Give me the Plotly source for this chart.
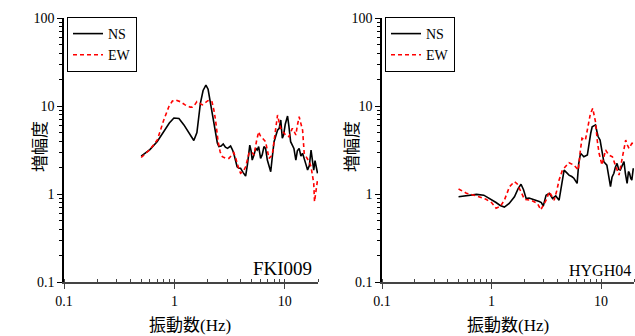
import plotly.graph_objects as go

# ---- FKI009 (left panel) ----
fki_ns_f = [0.5, 0.6, 0.7, 0.8, 0.9, 0.99, 1.1, 1.22, 1.35, 1.5, 1.6, 1.72, 1.82, 1.93, 2.02, 2.12, 2.24, 2.36, 2.45, 2.53,
            2.65, 2.77, 2.9, 3.03, 3.13, 3.23, 3.35, 3.45, 3.58, 3.7, 3.85, 3.98, 4.2, 4.42, 4.6, 4.82, 4.95, 5.07, 5.27,
            5.45, 5.63, 5.8, 6.04, 6.25, 6.48, 6.7, 6.95, 7.2, 7.46, 7.7, 8.0, 8.3, 8.6, 8.9, 9.2, 9.5, 9.75, 10.1, 10.6,
            10.9, 11.3, 11.7, 12.1, 12.6, 13.0, 13.5, 14.0, 14.5, 15.0, 15.5, 16.1, 16.7, 17.3, 17.8, 18.3, 18.8, 19.2, 19.8]
fki_ns_a = [2.7, 3.2, 3.95, 5.1, 6.4, 7.3, 7.2, 6.1, 4.9, 4.05, 5.0, 10.7, 15.0, 17.3, 15.5, 10.7, 6.8, 4.9, 3.8, 3.45,
            3.5, 3.7, 3.4, 3.3, 3.45, 3.51, 3.2, 2.9, 2.4, 2.04, 1.96, 1.96, 1.75, 1.6, 2.2, 3.6, 3.1, 2.43, 2.8,
            3.3, 3.16, 3.45, 2.54, 2.8, 3.45, 3.3, 2.43, 2.1, 1.79, 2.6, 3.93, 4.6, 5.3, 5.57, 6.93, 4.3, 4.68, 6.2, 7.7,
            5.9, 3.93, 3.6, 3.3, 2.43, 3.1, 3.30, 2.7, 2.9, 2.43, 2.2, 1.87, 2.1, 3.16, 2.3, 1.87, 2.4, 2.04, 1.72]

fki_ew_f = [0.5, 0.6, 0.7, 0.8, 0.89, 0.96, 1.02, 1.13, 1.25, 1.39, 1.45, 1.52, 1.6, 1.7, 1.79, 1.9, 2.01, 2.1, 2.19,
            2.28, 2.36, 2.49, 2.6, 2.72, 2.9, 3.12, 3.3, 3.45, 3.58, 3.7, 3.85, 3.98, 4.2, 4.42, 4.58, 4.74, 5.0, 5.27,
            5.55, 5.8, 6.0, 6.25, 6.7, 7.2, 7.7, 8.0, 8.3, 8.6, 8.9, 9.2, 9.5, 9.85, 10.3, 10.9, 11.3, 11.7, 12.1, 12.6,
            13.0, 13.5, 14.0, 14.5, 15.0, 15.5, 16.1, 16.7, 17.3, 17.8, 18.3, 18.6, 19.0, 19.4, 19.8]
fki_ew_a = [2.6, 3.2, 4.1, 6.9, 9.8, 11.4, 11.7, 11.2, 10.3, 9.7, 9.7, 10.2, 11.2, 10.7, 10.3, 10.9, 11.5, 11.6, 11.2,
            9.0, 6.9, 3.93, 3.0, 2.65, 2.55, 2.54, 2.8, 2.95, 2.6, 2.23, 1.9, 1.72, 1.8, 2.04, 2.5, 2.9, 3.0, 2.77,
            4.0, 5.1, 4.6, 4.3, 3.93, 2.54, 2.77, 4.0, 5.33, 7.9, 6.5, 5.57, 5.2, 4.9, 4.6, 4.48, 5.0, 5.57, 5.2, 4.68,
            6.0, 7.55, 6.3, 5.33, 2.9, 2.7, 2.54, 2.3, 2.04, 1.6, 1.32, 0.82, 1.0, 1.25, 1.44]

# ---- HYGH04 (right panel) ----
hyg_ns_f = [0.5, 0.6, 0.73, 0.85, 0.96, 1.1, 1.2, 1.31, 1.45, 1.62, 1.75, 1.86, 1.96, 2.07, 2.2, 2.38, 2.55, 2.73, 2.85,
            2.97, 3.15, 3.37, 3.61, 3.86, 4.14, 4.35, 4.6, 4.85, 5.1, 5.4, 5.65, 6.05, 6.25, 6.5, 6.97, 7.5, 7.8, 8.05,
            8.3, 8.6, 8.9, 9.15, 9.4, 9.8, 10.2, 10.6, 11.3, 11.8, 12.2, 12.6, 13.1, 13.5, 14.0, 14.5, 15.0, 15.6, 16.2,
            16.7, 17.3, 17.8, 18.2, 18.7, 19.1, 19.7]
hyg_ns_a = [0.93, 0.96, 0.99, 0.97, 0.89, 0.8, 0.74, 0.71, 0.78, 0.93, 1.15, 1.29, 1.12, 0.89, 0.9, 0.87, 0.86, 0.82, 0.8,
            0.73, 0.97, 1.02, 0.89, 0.95, 0.85, 1.2, 1.87, 1.75, 1.64, 1.58, 1.51, 1.32, 2.2, 2.9, 2.65, 2.77, 4.1, 4.9,
            5.8, 6.0, 6.1, 5.2, 4.5, 4.1, 3.0, 2.33, 2.13, 1.5, 1.21, 1.55, 1.72, 2.0, 2.23, 1.9, 1.87, 2.1, 2.33,
            1.7, 1.32, 1.8, 1.72, 1.5, 1.44, 1.96]

hyg_ew_f = [0.5, 0.59, 0.73, 0.89, 1.0, 1.1, 1.2, 1.31, 1.46, 1.62, 1.72, 1.83, 2.0, 2.29, 2.63, 2.82, 3.0, 3.15, 3.37,
            3.55, 3.73, 3.95, 4.14, 4.44, 4.8, 5.1, 5.65, 6.2, 6.45, 6.7, 7.2, 7.5, 7.8, 8.0, 8.4, 8.9, 9.25, 9.6, 10.2,
            10.6, 11.0, 11.8, 12.7, 13.5, 14.6, 15.6, 16.2, 16.8, 17.4, 18.0, 19.1, 20.0]
hyg_ew_a = [1.14, 1.02, 0.95, 0.87, 0.8, 0.69, 0.72, 0.85, 1.21, 1.38, 1.3, 1.11, 0.87, 0.85, 0.78, 0.66, 0.75, 0.85, 1.06,
            0.95, 0.85, 1.1, 1.44, 1.87, 2.1, 2.27, 2.13, 1.87, 3.0, 4.3, 4.1, 5.3, 6.9, 8.2, 9.4, 6.6, 4.0, 2.9, 2.13,
            2.6, 3.16, 2.77, 2.65, 2.13, 1.64, 2.54, 3.2, 4.1, 3.6, 3.30, 3.76, 3.76]

x_title = "振動数(Hz)"
y_title = "増幅度"
station_labels = ["FKI009", "HYGH04"]

FONT = "Liberation Serif, Times New Roman, Noto Sans CJK JP, serif"

fig = go.Figure()
fig.add_trace(go.Scatter(x=fki_ns_f, y=fki_ns_a, mode="lines", name="NS", line=dict(color="black", width=1.6),
                         xaxis="x", yaxis="y", legend="legend"))
fig.add_trace(go.Scatter(x=fki_ew_f, y=fki_ew_a, mode="lines", name="EW", line=dict(color="red", width=1.6, dash="4px,3px"),
                         xaxis="x", yaxis="y", legend="legend"))
fig.add_trace(go.Scatter(x=hyg_ns_f, y=hyg_ns_a, mode="lines", name="NS", line=dict(color="black", width=1.6),
                         xaxis="x2", yaxis="y2", legend="legend2"))
fig.add_trace(go.Scatter(x=hyg_ew_f, y=hyg_ew_a, mode="lines", name="EW", line=dict(color="red", width=1.6, dash="4px,3px"),
                         xaxis="x2", yaxis="y2", legend="legend2"))

W, H = 635, 336
def px(x):
    return x / W
def py(y):
    return 1 - y / H

ydom = [py(282), py(18)]

def xax(dom, anchor):
    return dict(type="log", domain=dom, anchor=anchor, range=[-1, 1.30103], showline=True, linecolor="#444",
                linewidth=1.5, ticks="outside", ticklen=5, tickwidth=1.2, tickcolor="#444", automargin=False,
                tickvals=[0.1, 1, 10], ticktext=["0.1", "1", "10"], showgrid=False, zeroline=False,
                tickfont=dict(family=FONT, size=14, color="black"),
                minor=dict(ticks="inside", ticklen=3, tickwidth=1, tickcolor="#444", dtick="D1", showgrid=False))

def yax(anchor):
    return dict(type="log", domain=ydom, anchor=anchor, range=[-1, 2], showline=True, linecolor="black",
                linewidth=1.5, ticks="outside", ticklen=5, tickwidth=1.2, tickcolor="black", automargin=False,
                tickvals=[0.1, 1, 10, 100], ticktext=["0.1", "1", "10", "100"], showgrid=False, zeroline=False,
                tickfont=dict(family=FONT, size=14, color="black"),
                minor=dict(ticks="outside", ticklen=3, tickwidth=1, tickcolor="black", dtick="D1", showgrid=False))

leg_common = dict(bgcolor="white", bordercolor="black", borderwidth=1, font=dict(family=FONT, size=14, color="black"),
                  xanchor="left", yanchor="top", tracegroupgap=0, itemwidth=30)

def ann(text, x, y, size, xanchor="center", angle=0):
    return dict(text=text, x=px(x), y=py(y), xref="paper", yref="paper", xanchor=xanchor, yanchor="middle",
                showarrow=False, textangle=angle, font=dict(family=FONT, size=size, color="black"))

fig.update_layout(
    width=W, height=H, margin=dict(l=0, r=0, t=0, b=0, autoexpand=False),
    paper_bgcolor="white", plot_bgcolor="white", showlegend=True,
    xaxis=xax([px(64), px(318)], "y"),
    yaxis=yax("x"),
    xaxis2=xax([px(382), px(634)], "y2"),
    yaxis2=yax("x2"),
    legend=dict(x=px(67), y=py(17), **leg_common),
    legend2=dict(x=px(385), y=py(17), **leg_common),
    annotations=[
        ann(station_labels[0], 314, 268, 19, xanchor="right"),
        ann(station_labels[1], 633, 270, 16, xanchor="right"),
        ann(x_title, 190, 325, 17),
        ann(x_title, 508, 325, 17),
        ann(y_title, 40, 147, 17, angle=-90),
        ann(y_title, 352, 147, 17, angle=-90),
    ],
)

fig.write_html("out.html", config={"displayModeBar": False},
               post_script="document.body.style.margin='0';document.body.style.overflow='hidden';")
